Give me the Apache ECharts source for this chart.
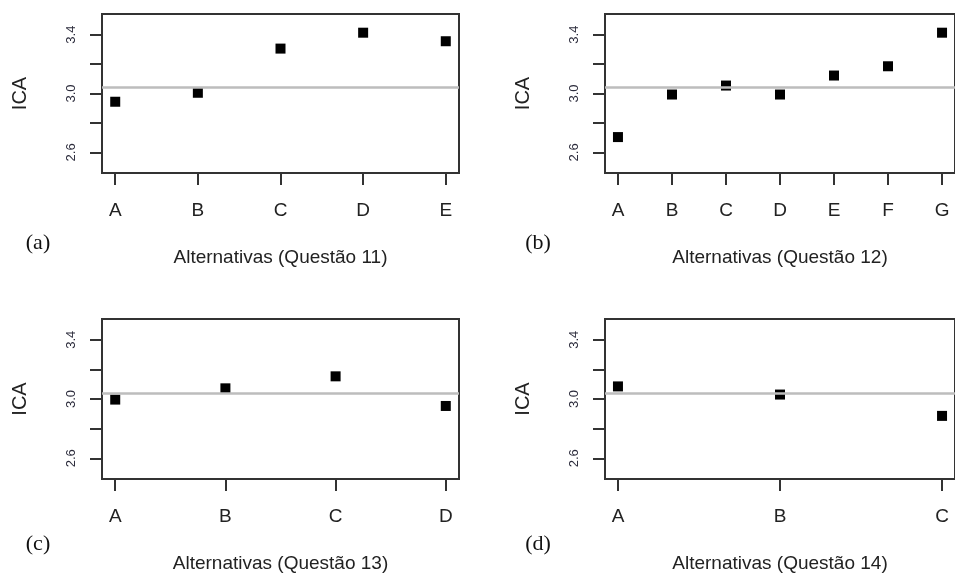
<!DOCTYPE html>
<html>
<head>
<meta charset="utf-8">
<script src="https://cdn.jsdelivr.net/npm/echarts@6/dist/echarts.min.js"></script>
<style>
html,body{margin:0;padding:0;background:#fff;}
#c{width:955px;height:574px;}
</style>
</head>
<body>
<div id="c"></div>
<script>
// ---- data ----
const catsA = ['A','B','C','D','E'];
const valsA = [2.944, 3.005, 3.305, 3.413, 3.355];
const catsB = ['A','B','C','D','E','F','G'];
const valsB = [2.704, 2.993, 3.054, 2.993, 3.122, 3.185, 3.413];
const catsC = ['A','B','C','D'];
const valsC = [2.996, 3.072, 3.153, 2.953];
const catsD = ['A','B','C'];
const valsD = [3.085, 3.030, 2.886];
const yTicks = [2.6, 2.8, 3.0, 3.2, 3.4];
const yLabels = [2.6, 3.0, 3.4];
const refLine = 3.045;
const xTitles = ['Alternativas (Questão 11)','Alternativas (Questão 12)','Alternativas (Questão 13)','Alternativas (Questão 14)'];
const panelTags = ['(a)','(b)','(c)','(d)'];
const yName = 'ICA';

// ---- layout ----
const panels = [
  {cats: catsA, vals: valsA, grid: {left: 102, top: 14, width: 357, height: 159}, tag: [38, 243]},
  {cats: catsB, vals: valsB, grid: {left: 605, top: 14, width: 355, height: 159}, tag: [538, 243]},
  {cats: catsC, vals: valsC, grid: {left: 102, top: 319, width: 357, height: 160}, tag: [38, 544]},
  {cats: catsD, vals: valsD, grid: {left: 605, top: 319, width: 355, height: 160}, tag: [538, 544]}
];

const dark = '#333';
const font = 'Liberation Sans, Arial, sans-serif';
const option = {animation: false, grid: [], xAxis: [], yAxis: [], series: [], graphic: []};

panels.forEach((p, k) => {
  const n = p.cats.length;
  const ext = 0.04 * (n - 1);
  const idx = p.cats.map((c, i) => i + 1);
  option.grid.push(Object.assign({show: true, borderColor: dark, borderWidth: 2, backgroundColor: 'transparent'}, p.grid));
  option.xAxis.push({
    type: 'value', gridIndex: k, min: 1 - ext, max: n + ext,
    axisLine: {show: false}, splitLine: {show: false},
    axisTick: {show: true, customValues: idx, length: 12, lineStyle: {color: dark, width: 2}},
    axisLabel: {customValues: idx, margin: 28, fontSize: 19, fontFamily: font, color: '#222',
      formatter: v => p.cats[Math.round(v) - 1]},
    name: xTitles[k], nameLocation: 'middle', nameGap: 75,
    nameTextStyle: {fontSize: 19, fontFamily: font, color: '#222'}
  });
  option.yAxis.push({
    type: 'value', gridIndex: k, min: 2.46, max: 3.54,
    axisLine: {show: false}, splitLine: {show: false},
    axisTick: {show: true, customValues: yTicks, length: 12, lineStyle: {color: dark, width: 2}},
    axisLabel: {customValues: yLabels, rotate: 90, margin: 24, fontSize: 13, fontFamily: font, color: '#2b2b3b',
      formatter: v => v.toFixed(1)},
    name: yName, nameLocation: 'middle', nameGap: 72, nameRotate: 90,
    nameTextStyle: {fontSize: 20, fontFamily: font, color: '#222'}
  });
  option.series.push({
    type: 'scatter', xAxisIndex: k, yAxisIndex: k, symbol: 'rect', symbolSize: 10,
    itemStyle: {color: '#000', opacity: 1}, z: 3,
    data: p.vals.map((v, i) => [i + 1, v])
  });
  option.series.push({
    type: 'scatter', xAxisIndex: k, yAxisIndex: k, data: [], z: 10,
    markLine: {silent: true, symbol: 'none', z: 10, label: {show: false},
      lineStyle: {color: '#bdbdbd', width: 2.5, type: 'solid', opacity: 1},
      data: [{yAxis: refLine}]}
  });
  option.graphic.push({
    type: 'text', x: p.tag[0], y: p.tag[1],
    style: {text: panelTags[k], font: '22px "Liberation Serif", "Times New Roman", serif', fill: '#111',
      textAlign: 'center', textVerticalAlign: 'middle'}
  });
});

const chart = echarts.init(document.getElementById('c'), null, {renderer: 'canvas'});
chart.setOption(option);
</script>
</body>
</html>
